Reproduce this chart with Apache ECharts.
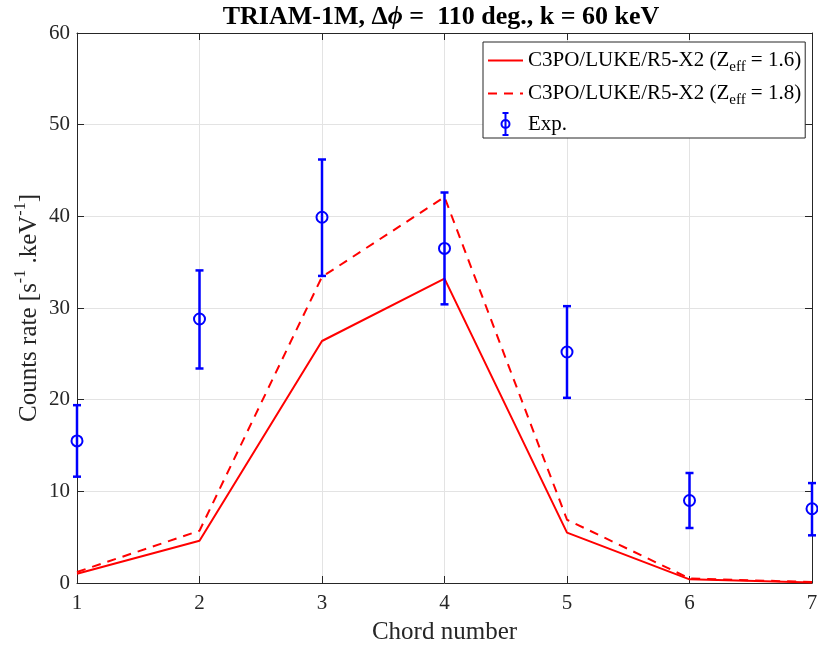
<!DOCTYPE html>
<html>
<head>
<meta charset="utf-8">
<script src="https://cdn.jsdelivr.net/npm/echarts@6/dist/echarts.min.js"></script>
<style>html,body{margin:0;padding:0;background:#fff}#c{width:818px;height:649px}</style>
</head>
<body>
<div id="c"></div>
<script>
const chords = [1, 2, 3, 4, 5, 6, 7];
const zeff16 = [1.0, 4.6, 26.4, 33.2, 5.5, 0.4, 0.05];
const zeff18 = [1.2, 5.7, 33.4, 42.1, 6.9, 0.5, 0.1];
const expValues = [15.5, 28.8, 39.9, 36.5, 25.2, 9.0, 8.1];
const expLow = [11.6, 23.4, 33.5, 30.4, 20.2, 6.0, 5.2];
const expHigh = [19.4, 34.1, 46.2, 42.6, 30.2, 12.0, 10.9];
const xTicks = [1, 2, 3, 4, 5, 6, 7];
const yTicks = [0, 10, 20, 30, 40, 50, 60];

const FONT = 'Liberation Serif';
const AX = '#262626';
const legendText = {
  'sim16': 'C3PO/LUKE/R5-X2 (Z{sub|eff} = 1.6)',
  'sim18': 'C3PO/LUKE/R5-X2 (Z{sub|eff} = 1.8)',
  'Exp.': 'Exp.'
};

const chart = echarts.init(document.getElementById('c'), null, {renderer: 'canvas'});
const axisCommon = {
  type: 'value',
  axisLine: {show: true, onZero: false, lineStyle: {color: AX, width: 1}},
  axisTick: {show: true, inside: true, length: 7, lineStyle: {color: AX}},
  splitLine: {show: false},
  axisLabel: {show: false}
};
chart.setOption({
  backgroundColor: '#fff',
  animation: false,
  title: {
    text: 'TRIAM-1M, Δ{i|ϕ} =  110 deg., k = 60 keV',
    left: 436, top: -1, textAlign: 'center',
    textStyle: {fontFamily: FONT, fontSize: 26, fontWeight: 'bold', color: '#000',
      rich: {i: {fontFamily: FONT, fontSize: 26, fontWeight: 'bold', fontStyle: 'italic', color: '#000'}}}
  },
  grid: {left: 77, right: 6, top: 33, bottom: 66, containLabel: false, outerBoundsMode: 'none'},
  legend: {
    orient: 'vertical', left: 483, top: 42,
    padding: [4, 4, 2, 4], itemGap: 4, itemWidth: 35, itemHeight: 22,
    backgroundColor: '#fff', borderColor: AX, borderWidth: 1, borderRadius: 0,
    data: [
      {name: 'sim16', itemStyle: {opacity: 0}},
      {name: 'sim18', itemStyle: {opacity: 0}},
      {name: 'Exp.', icon: 'path://M5 0 L5 22 M2 0 L8 0 M2 22 L8 22 M5 7 A4 4 0 1 0 5 15 A4 4 0 1 0 5 7 Z',
        itemStyle: {color: 'rgba(0,0,0,0)', borderColor: '#0000ff', borderWidth: 2}}
    ],
    formatter: n => legendText[n],
    textStyle: {fontFamily: FONT, fontSize: 21, color: '#000', lineHeight: 24,
      rich: {sub: {fontFamily: FONT, fontSize: 15, color: '#000', lineHeight: 16, padding: [14, 0, 0, 0]}}}
  },
  xAxis: [
    Object.assign({}, axisCommon, {
      position: 'bottom', min: 1, max: 7, interval: 1,
      splitLine: {show: true, lineStyle: {color: '#e3e3e3', width: 1}},
      axisLabel: {show: true, fontFamily: FONT, fontSize: 21, color: AX, margin: 10,
        formatter: v => xTicks.includes(v) ? String(v) : ''},
      name: 'Chord number', nameLocation: 'middle', nameGap: 37, nameMoveOverlap: false,
      nameTextStyle: {fontFamily: FONT, fontSize: 25, color: AX}
    }),
    Object.assign({}, axisCommon, {position: 'top', min: 1, max: 7, interval: 1})
  ],
  yAxis: [
    Object.assign({}, axisCommon, {
      position: 'left', min: 0, max: 60, interval: 10,
      splitLine: {show: true, lineStyle: {color: '#e3e3e3', width: 1}},
      axisLabel: {show: true, fontFamily: FONT, fontSize: 21, color: AX, margin: 7,
        formatter: v => yTicks.includes(v) ? String(v) : ''},
      name: '{n|Counts rate [s}{s|-1}{n| .keV}{s|-1}{n|]}', nameLocation: 'middle', nameGap: 34, nameRotate: 90,
      nameMoveOverlap: false,
      nameTextStyle: {fontFamily: FONT, fontSize: 25, color: AX,
        rich: {n: {fontFamily: FONT, fontSize: 25, color: AX, lineHeight: 28},
               s: {fontFamily: FONT, fontSize: 16, color: AX, lineHeight: 18, padding: [0, 0, 16, 0]}}}
    }),
    Object.assign({}, axisCommon, {position: 'right', min: 0, max: 60, interval: 10})
  ],
  series: [
    {
      name: 'sim16', type: 'line', xAxisIndex: 0, yAxisIndex: 0,
      data: chords.map((c, i) => [c, zeff16[i]]),
      symbol: 'none', lineStyle: {color: '#ff0000', width: 2, type: 'solid'},
      itemStyle: {color: '#ff0000'}, z: 3
    },
    {
      name: 'sim18', type: 'line', xAxisIndex: 0, yAxisIndex: 0,
      data: chords.map((c, i) => [c, zeff18[i]]),
      symbol: 'none', lineStyle: {color: '#ff0000', width: 2, type: [9, 7]},
      itemStyle: {color: '#ff0000'}, z: 3
    },
    {
      name: 'Exp.', type: 'custom', xAxisIndex: 0, yAxisIndex: 0, clip: false, z: 4,
      itemStyle: {color: '#0000ff'},
      data: chords.map((c, i) => [c, expValues[i], expLow[i], expHigh[i]]),
      encode: {x: 0, y: [1, 2, 3]},
      renderItem: function (params, api) {
        const x = api.value(0);
        const p = api.coord([x, api.value(1)]);
        const lo = api.coord([x, api.value(2)]);
        const hi = api.coord([x, api.value(3)]);
        const cap = 4;
        const st = {stroke: '#0000ff', lineWidth: 2.5, fill: null};
        return {
          type: 'group',
          children: [
            {type: 'line', shape: {x1: lo[0], y1: lo[1], x2: hi[0], y2: hi[1]}, style: st},
            {type: 'line', shape: {x1: lo[0] - cap, y1: lo[1], x2: lo[0] + cap, y2: lo[1]}, style: st},
            {type: 'line', shape: {x1: hi[0] - cap, y1: hi[1], x2: hi[0] + cap, y2: hi[1]}, style: st},
            {type: 'circle', shape: {cx: p[0], cy: p[1], r: 5.5}, style: {stroke: '#0000ff', lineWidth: 2, fill: 'rgba(0,0,0,0)'}}
          ]
        };
      }
    }
  ]
});
</script>
</body>
</html>
